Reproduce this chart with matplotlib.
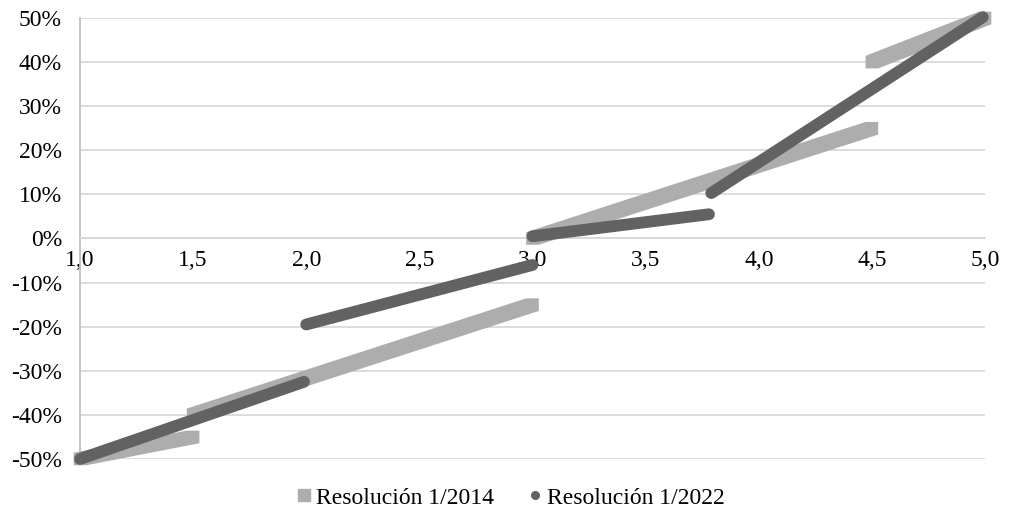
import matplotlib
matplotlib.use("Agg")
import matplotlib.pyplot as plt
from matplotlib.lines import Line2D
from matplotlib.patches import Polygon
from matplotlib.transforms import IdentityTransform
from matplotlib.ticker import FuncFormatter

plt.rcParams['font.family'] = ['Liberation Serif', 'DejaVu Serif']

# segment end points (note, % adjustment) for each resolution
res2014_x = [(1.0, 1.5), (1.5, 3.0), (3.0, 4.5), (4.5, 5.0)]
res2014_y = [(-50, -45), (-40, -15), (0, 25), (40, 50)]

res2022_x = [(1.0, 1.99), (2.0, 3.0), (3.0, 3.78), (3.79, 4.99)]
res2022_y = [(-50, -32.5), (-19.5, -6), (0.5, 5.5), (10.3, 50.2)]

labels = ["Resolución 1/2014", "Resolución 1/2022"]
c2014 = "#ADADAD"
c2022 = "#626262"

fig = plt.figure(figsize=(10.11, 5.16), dpi=100)
ax = fig.add_axes([0.0791, 0.1105, 0.8952, 0.8546])

ax.set_xlim(1.0, 5.0)
ax.set_ylim(-0.5, 0.5)


def square_band(x0, y0, x1, y1, h=6.3):
    # a run of square markers between two points, drawn as one shape in pixels
    (px0, py0), (px1, py1) = ax.transData.transform([(x0, y0), (x1, y1)])
    verts = [(px0 - h, py0 - h), (px0 - h, py0 + h), (px1 - h, py1 + h),
             (px1 + h, py1 + h), (px1 + h, py1 - h), (px0 + h, py0 - h)]
    return Polygon(verts, closed=True, transform=IdentityTransform(),
                   facecolor=c2014, edgecolor='none', zorder=3, clip_on=False)


for xs, ys in zip(res2014_x, res2014_y):
    ax.add_patch(square_band(xs[0], ys[0] / 100, xs[1], ys[1] / 100))
for xs, ys in zip(res2022_x, res2022_y):
    ax.plot(xs, [v / 100 for v in ys], color=c2022, lw=8.5,
            solid_capstyle='round', zorder=4, clip_on=False)

ax.set_xticks([1.0, 1.5, 2.0, 2.5, 3.0, 3.5, 4.0, 4.5, 5.0])
ax.set_yticks([i / 10 for i in range(-5, 6)])
ax.xaxis.set_major_formatter(FuncFormatter(lambda v, p: f"{v:.1f}".replace('.', ',')))
ax.yaxis.set_major_formatter(FuncFormatter(lambda v, p: f"{round(v * 100):d}%"))

ax.grid(axis='y', color='#D9D9D9', lw=1.3, zorder=0)
ax.set_axisbelow(True)
for s in ['top', 'right']:
    ax.spines[s].set_visible(False)
ax.spines['bottom'].set_position(('data', 0))
ax.spines['bottom'].set_color('#D9D9D9')
ax.spines['bottom'].set_linewidth(1.3)
ax.spines['left'].set_color('#BFBFBF')
ax.spines['left'].set_linewidth(1.3)
ax.tick_params(axis='both', length=0, labelsize=17, colors='black')
ax.tick_params(axis='y', pad=13)
ax.tick_params(axis='x', pad=8)

handles = [
    Line2D([], [], ls='none', marker='s', ms=8, color=c2014),
    Line2D([], [], ls='none', marker='o', ms=5.5, color=c2022),
]
fig.legend(handles, labels, loc='lower center', bbox_to_anchor=(0.505, -0.027),
           ncol=2, frameon=False, fontsize=17, handletextpad=0.15,
           columnspacing=1.4, handlelength=0.7)

fig.savefig("out.png", dpi=100)
